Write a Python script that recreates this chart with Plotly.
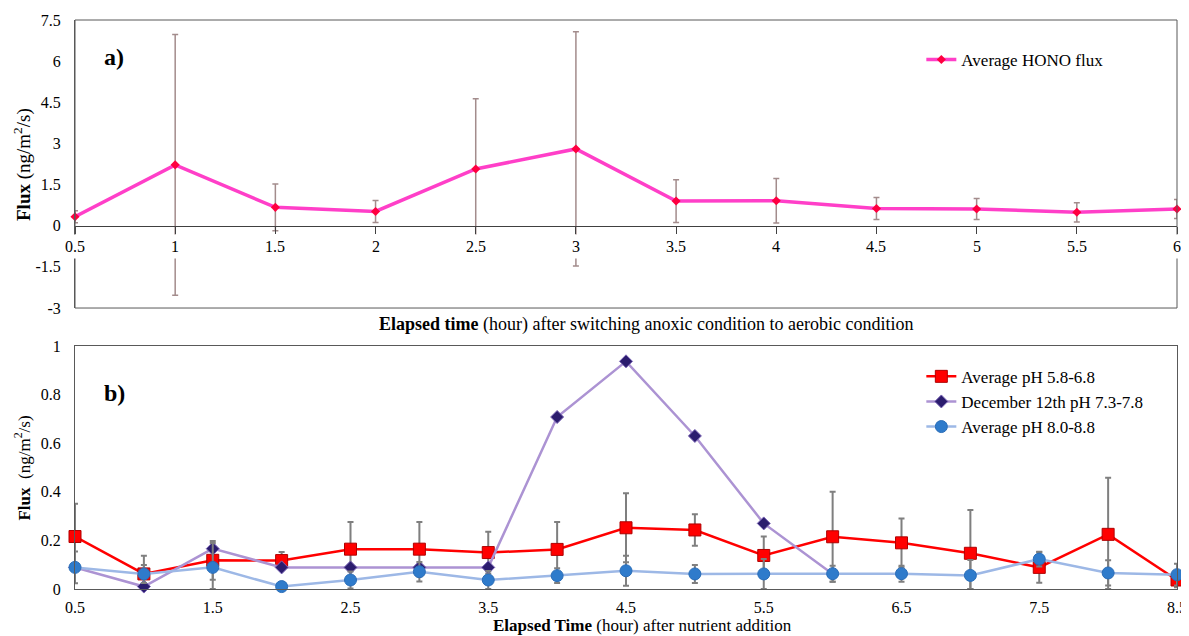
import plotly.graph_objects as go

# ---------------- data ----------------
# Panel a: HONO flux after switching anoxic -> aerobic
time_a = [0.5, 1.0, 1.5, 2.0, 2.5, 3.0, 3.5, 4.0, 4.5, 5.0, 5.5, 6.0]
hono_flux = [0.33, 2.22, 0.67, 0.52, 2.07, 2.80, 0.90, 0.91, 0.63, 0.61, 0.49, 0.61]
hono_err = [0.22, 4.75, 0.85, 0.40, 2.56, 4.27, 0.78, 0.81, 0.40, 0.38, 0.35, 0.35]
ticks_a = [0.5, 1.0, 1.5, 2.0, 2.5, 3.0, 3.5, 4.0, 4.5, 5.0, 5.5, 6.0]
ticklabels_a = ["0.5", "1", "1.5", "2", "2.5", "3", "3.5", "4", "4.5", "5", "5.5", "6"]
yticks_a = [-3, -1.5, 0, 1.5, 3, 4.5, 6, 7.5]
yticklabels_a = ["-3", "-1.5", "0", "1.5", "3", "4.5", "6", "7.5"]

# Panel b: flux after nutrient addition
time_b = [0.5, 1.0, 1.5, 2.0, 2.5, 3.0, 3.5, 4.0, 4.5, 5.0, 5.5, 6.0, 6.5, 7.0, 7.5, 8.0, 8.5]
ph_low = [0.216, 0.062, 0.118, 0.117, 0.164, 0.164, 0.150, 0.163, 0.252, 0.243, 0.138,
          0.215, 0.190, 0.147, 0.089, 0.225, 0.037]
ph_low_err = [0.135, 0.075, 0.080, 0.035, 0.112, 0.112, 0.086, 0.113, 0.142, 0.065, 0.078,
              0.185, 0.100, 0.178, 0.063, 0.233, 0.030]
dec12 = [0.089, 0.010, 0.166, 0.089, 0.089, 0.089, 0.089, 0.708, 0.937, 0.630, 0.270,
         0.062, None, None, None, None, None]
ph_high = [0.089, 0.062, 0.089, 0.010, 0.037, 0.071, 0.037, 0.055, 0.075, 0.062, 0.062,
           0.063, 0.063, 0.056, 0.123, 0.066, 0.059]
ph_high_err = [0.065, 0.037, 0.100, 0.010, 0.035, 0.040, 0.037, 0.030, 0.062, 0.037, 0.062,
               0.033, 0.033, 0.063, 0.030, 0.052, 0.045]

FONT = "Liberation Serif"
AXC = "#595959"

fig = go.Figure()

# ---- panel a ----
fig.add_trace(go.Scatter(
    x=time_a, y=hono_flux, mode="lines+markers", name="Average HONO flux",
    line=dict(color="#FF3FC8", width=3.5),
    marker=dict(symbol="diamond", size=7, color="#FF0040"),
    error_y=dict(type="data", array=hono_err, color="#A38C8C", thickness=1.5, width=3),
    xaxis="x", yaxis="y", legend="legend", cliponaxis=False,
))

# ---- panel b ----
low_minus = [min(e, v) for e, v in zip(ph_low_err, ph_low)]
high_minus = [min(e, v) for e, v in zip(ph_high_err, ph_high)]
fig.add_trace(go.Scatter(
    x=time_b, y=ph_low, mode="lines+markers", name="Average pH 5.8-6.8",
    line=dict(color="#FF0000", width=2.5),
    marker=dict(symbol="square", size=12, color="#FF0000", line=dict(color="#B00000", width=1)),
    error_y=dict(type="data", array=ph_low_err, arrayminus=low_minus, color="#7F7F7F", thickness=2, width=3),
    xaxis="x2", yaxis="y2", legend="legend2", legendgroup="r", cliponaxis=False,
))
fig.add_trace(go.Scatter(
    x=time_b, y=dec12, mode="lines+markers", name="December 12th pH 7.3-7.8",
    line=dict(color="#AC93D3", width=2.5),
    marker=dict(symbol="diamond", size=10, color="#2B1C6E", line=dict(color="#7A65B5", width=1)),
    xaxis="x2", yaxis="y2", legend="legend2", legendgroup="p", cliponaxis=False,
))
fig.add_trace(go.Scatter(
    x=time_b, y=ph_high, mode="lines+markers", name="Average pH 8.0-8.8",
    line=dict(color="#9DB8E6", width=2.5),
    marker=dict(symbol="circle", size=12, color="#2F7BCB", line=dict(color="#2A6DB8", width=1)),
    error_y=dict(type="data", array=ph_high_err, arrayminus=high_minus, color="#7F7F7F", thickness=2, width=3),
    xaxis="x2", yaxis="y2", legend="legend2", legendgroup="b", cliponaxis=False,
))

dom_a = [0.4938, 1.0]
pos_zero = dom_a[0] + (0 - (-3)) / 10.5 * (dom_a[1] - dom_a[0])

# page body has an 8px margin: figure is sized to fit inside the window
fig.update_layout(
    width=1181, height=628,
    margin=dict(l=67, r=12, t=12, b=47, autoexpand=False),
    paper_bgcolor="white", plot_bgcolor="white",
    font=dict(family=FONT, size=16, color="#000000"),
    showlegend=True,
    xaxis=dict(domain=[0, 1], range=[0.5, 6], anchor="free", position=pos_zero,
               tickvals=ticks_a, ticks="outside", ticklen=7, tickcolor="#404040",
               showticklabels=False, showline=True, linecolor="#404040", linewidth=1,
               showgrid=False, zeroline=False, automargin=False),
    yaxis=dict(domain=dom_a, range=[-3, 7.5], tickvals=yticks_a, ticktext=yticklabels_a,
               ticks="", showline=True, linecolor=AXC, linewidth=1, showgrid=False,
               zeroline=False, ticklabelstandoff=10, tickfont=dict(size=16, family=FONT),
               automargin=False),
    xaxis2=dict(domain=[0, 1], range=[0.5, 8.5], tick0=0.5, dtick=1, ticks="",
                showline=True, mirror=True, linecolor=AXC, linewidth=1, showgrid=False,
                zeroline=False, anchor="y2", ticklabelstandoff=4,
                tickfont=dict(size=16, family=FONT), automargin=False),
    yaxis2=dict(domain=[0, 0.427], range=[0, 1], dtick=0.2, ticks="", showline=True,
                mirror=True, linecolor=AXC, linewidth=1, showgrid=False, zeroline=False,
                anchor="x2", ticklabelstandoff=10, tickfont=dict(size=16, family=FONT),
                automargin=False),
    legend=dict(x=0.768, y=0.9297, xanchor="left", yanchor="middle",
                bgcolor="rgba(0,0,0,0)", font=dict(size=17, family=FONT)),
    legend2=dict(x=0.768, y=0.329, xanchor="left", yanchor="middle",
                 bgcolor="rgba(0,0,0,0)", font=dict(size=17, family=FONT),
                 tracegroupgap=0),
)

# frame around panel a
fig.add_shape(type="rect", xref="x domain", yref="y domain", x0=0, x1=1, y0=0, y1=1,
              line=dict(color=AXC, width=1), fillcolor="rgba(0,0,0,0)", layer="above")

ann = []
# panel a x tick labels with white background (cover error bars like the original)
for t, lab in zip(ticks_a, ticklabels_a):
    ann.append(dict(x=t, y=0, xref="x", yref="y", text=lab, showarrow=False,
                    yanchor="top", yshift=-8, bgcolor="white", borderpad=3,
                    font=dict(size=16, family=FONT)))
# titles
ann.append(dict(x=0.518, y=0.4657, xref="paper", yref="paper", showarrow=False,
                text="<b>Elapsed time</b> (hour) after switching anoxic condition to aerobic condition",
                font=dict(size=18, family=FONT), xanchor="center", yanchor="middle"))
ann.append(dict(x=0.515, y=-0.065, xref="paper", yref="paper", showarrow=False,
                text="<b>Elapsed Time</b> (hour) after nutrient addition",
                font=dict(size=17, family=FONT), xanchor="center", yanchor="middle"))
ann.append(dict(x=-0.0481, y=0.5, xref="paper", yref="y domain", showarrow=False,
                text="<b>Flux</b> (ng/m<sup>2</sup>/s)", textangle=-90,
                font=dict(size=19, family=FONT), xanchor="center", yanchor="middle"))
ann.append(dict(x=-0.0481, y=0.5, xref="paper", yref="y2 domain", showarrow=False,
                text="<b>Flux</b>  (ng/m<sup>2</sup>/s)", textangle=-90,
                font=dict(size=17, family=FONT), xanchor="center", yanchor="middle"))
ann.append(dict(x=(102 - 75) / 1102, y=0.935, xref="paper", yref="paper", showarrow=False,
                text="<b>a)</b>", font=dict(size=24, family=FONT), xanchor="left", yanchor="middle"))
ann.append(dict(x=(102 - 75) / 1102, y=0.3445, xref="paper", yref="paper", showarrow=False,
                text="<b>b)</b>", font=dict(size=24, family=FONT), xanchor="left", yanchor="middle"))
fig.update_layout(annotations=ann)

fig.write_html("out.html")
